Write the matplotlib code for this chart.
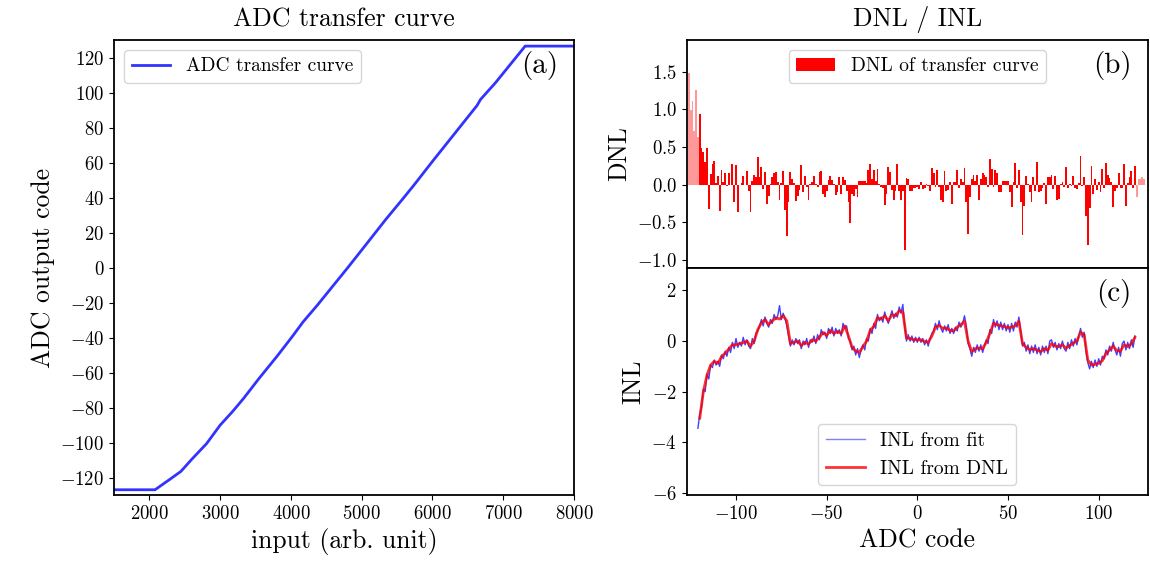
import numpy as np
import matplotlib
matplotlib.use("Agg")
import matplotlib.pyplot as plt

plt.rcParams["font.family"] = "cmr10"
plt.rcParams["mathtext.fontset"] = "cm"
plt.rcParams["axes.formatter.use_mathtext"] = True
plt.rcParams["axes.linewidth"] = 1.3

# --- (a) transfer curve: input vs. output code
transfer_input = [1500, 2080, 2290, 2445, 2600, 2810, 3000, 3180, 3335, 3545,
                  3805, 4015, 4170, 4380, 4640, 4800, 5005, 5345, 5580, 5740,
                  6000, 6315, 6630, 6680, 6890, 7100, 7310, 8000]
transfer_code = [-127, -127, -121, -116.5, -109.5, -100.5, -90, -82, -74.5, -63.5,
                 -50.5, -39.5, -31, -21, -8, 0, 10.5, 28, 39.5, 47.5,
                 61, 77, 93, 96.5, 106, 116.5, 127, 127]

# --- (b) DNL per code, codes -126 .. 125
dnl_codes = np.arange(-126, 126)
dnl_values = [
    1.48, 0.99, 1.11, 0.71, 1.25, 0.63, 0.94, 0.49, 0.43, 0.30,
    0.49, -0.32, 0.14, 0.27, 0.32, 0.02, 0.11, -0.35, 0.20, 0.04,
    0.15, -0.02, 0.15, 0.00, 0.28, -0.23, 0.26, -0.36, 0.00, 0.02,
    0.11, 0.00, 0.18, -0.08, -0.36, 0.05, 0.13, 0.10, 0.37, 0.10,
    0.23, -0.06, 0.17, -0.25, -0.15, 0.01, 0.10, 0.16, 0.17, 0.04,
    -0.20, 0.02, 0.18, -0.33, -0.68, -0.23, 0.17, 0.08, 0.02, -0.22,
    -0.15, -0.07, 0.26, -0.10, 0.12, -0.03, -0.20, 0.01, 0.03, 0.12,
    0.01, -0.03, 0.17, 0.18, -0.12, -0.16, -0.09, 0.06, 0.11, 0.06,
    0.01, -0.14, -0.10, 0.10, -0.12, 0.10, 0.06, -0.08, -0.23, -0.51,
    -0.12, -0.15, -0.06, -0.17, 0.05, 0.05, 0.05, 0.05, 0.02, 0.20,
    0.27, 0.07, 0.20, 0.05, 0.21, 0.01, -0.03, -0.04, -0.27, -0.13,
    0.23, 0.17, -0.07, -0.20, -0.09, 0.27, -0.08, -0.21, -0.09, -0.87,
    0.09, 0.08, -0.09, -0.09, -0.05, -0.05, -0.03, -0.06, 0.03, -0.06,
    -0.05, 0.01, -0.02, -0.09, 0.22, 0.16, -0.03, 0.20, -0.03, -0.21,
    -0.23, 0.18, -0.09, -0.07, 0.03, -0.25, 0.03, 0.03, 0.20, -0.05,
    0.08, 0.03, 0.22, -0.23, -0.66, -0.17, 0.08, 0.13, 0.05, 0.13,
    -0.20, 0.07, 0.16, 0.13, 0.10, -0.03, 0.34, 0.21, -0.03, 0.20,
    0.16, -0.10, -0.10, 0.05, 0.05, 0.05, 0.05, -0.10, -0.29, 0.04,
    0.29, -0.04, 0.20, -0.23, -0.67, -0.28, 0.12, 0.01, -0.10, -0.23,
    0.10, -0.09, 0.30, -0.10, -0.08, -0.05, 0.02, -0.25, 0.10, 0.10,
    0.13, -0.06, 0.12, -0.20, -0.19, 0.01, 0.04, -0.03, 0.23, -0.05,
    0.01, -0.02, 0.12, -0.04, -0.06, 0.02, 0.38, -0.02, 0.10, -0.42,
    -0.80, -0.31, 0.25, -0.12, 0.08, -0.07, 0.04, -0.10, 0.21, -0.05,
    0.29, 0.13, 0.09, 0.04, -0.30, -0.09, -0.04, 0.16, -0.04, -0.04,
    0.27, -0.28, 0.02, 0.10, 0.18, -0.05, 0.25, -0.17, 0.08, 0.08,
    0.10, 0.07,
]
valid_first, valid_last = -120, 120

# --- (c) INL
inl_dnl_codes = np.arange(-120, 121, 2)
inl_dnl_values = [
    -3.05, -2.0, -1.35, -0.95, -0.8, -0.88, -0.62, -0.48, -0.32, -0.15,
    -0.15, -0.1, -0.06, 0.0, -0.2, 0.0, 0.45, 0.72, 0.85, 0.65,
    0.8, 0.92, 0.87, 1.0, 0.8, -0.1, -0.05, 0.0, -0.18, -0.05,
    -0.12, 0.05, 0.0, 0.15, 0.34, 0.22, 0.42, 0.3, 0.38, 0.3,
    0.6, 0.2, -0.25, -0.4, -0.45, -0.22, 0.0, 0.42, 0.58, 0.92,
    0.87, 1.0, 0.8, 1.05, 1.0, 1.2, 1.15, 0.12, 0.1, 0.05,
    0.05, 0.05, -0.02, -0.05, 0.2, 0.55, 0.62, 0.5, 0.52, 0.42,
    0.4, 0.55, 0.65, 0.78, 0.0, -0.42, -0.3, -0.28, -0.3, -0.05,
    0.3, 0.7, 0.65, 0.6, 0.58, 0.52, 0.55, 0.6, 0.78, -0.1,
    -0.25, -0.34, -0.3, -0.35, -0.42, -0.3, -0.36, -0.1, -0.2, -0.22,
    -0.15, -0.28, -0.18, -0.08, 0.0, 0.35, 0.25, -0.75, -0.95, -0.92,
    -0.88, -0.78, -0.5, -0.35, -0.2, -0.38, -0.4, -0.15, -0.22, -0.12,
    0.15,
]
inl_fit_codes = np.arange(-121, 121)
inl_fit_values = [
    -3.45, -2.9, -2.6, -1.9, -2.0, -1.3, -1.5, -0.95, -1.05, -0.75,
    -0.95, -0.8, -1.0, -0.55, -0.7, -0.4, -0.6, -0.25, -0.45, -0.05,
    -0.3, 0.1, -0.25, -0.05, -0.2, 0.15, -0.15, 0.05, -0.2, -0.3,
    0.1, -0.1, 0.3, 0.4, 0.6, 0.85, 0.6, 0.95, 0.7, 0.55,
    0.85, 0.7, 1.05, 0.85, 1.0, 1.4, 0.85, 1.1, 0.9, 0.6,
    0.2, -0.2, 0.05, -0.15, 0.1, -0.1, 0.05, -0.3, 0.0, -0.15,
    0.1, -0.25, 0.05, -0.05, 0.2, -0.1, 0.25, 0.05, 0.45, 0.25,
    0.35, 0.1, 0.5, 0.3, 0.55, 0.2, 0.5, 0.3, 0.45, 0.2,
    0.7, 0.5, 0.6, 0.1, 0.0, -0.35, -0.2, -0.55, -0.3, -0.65,
    -0.35, -0.15, -0.35, 0.1, 0.0, 0.5, 0.3, 0.7, 0.5, 1.05,
    0.8, 0.95, 0.75, 1.15, 0.9, 0.7, 0.95, 1.2, 0.9, 1.1,
    0.95, 1.35, 1.1, 1.45, 0.6, 0.0, 0.25, 0.0, 0.2, -0.05,
    0.15, -0.05, 0.15, -0.05, 0.1, -0.15, 0.05, -0.2, 0.1, 0.3,
    0.4, 0.7, 0.45, 0.8, 0.5, 0.35, 0.6, 0.4, 0.65, 0.3,
    0.5, 0.3, 0.55, 0.4, 0.75, 0.55, 0.7, 1.0, 0.6, -0.1,
    -0.3, -0.6, -0.25, -0.45, -0.15, -0.4, -0.15, -0.45, -0.2, 0.05,
    -0.1, 0.45, 0.3, 0.85, 0.55, 0.8, 0.45, 0.75, 0.45, 0.7,
    0.4, 0.65, 0.35, 0.7, 0.4, 0.75, 0.55, 0.95, 0.4, -0.2,
    -0.05, -0.4, -0.15, -0.5, -0.2, -0.45, -0.15, -0.5, -0.25, -0.55,
    -0.2, -0.45, -0.2, -0.5, 0.0, 0.05, -0.25, -0.05, -0.35, -0.1,
    -0.3, 0.0, -0.3, -0.4, -0.05, -0.3, 0.05, -0.2, 0.1, -0.15,
    0.2, 0.5, 0.15, 0.35, -0.4, -0.85, -1.1, -0.8, -1.05, -0.75,
    -1.0, -0.7, -0.95, -0.6, -0.7, -0.35, -0.55, -0.2, -0.4, -0.05,
    -0.35, -0.55, -0.25, -0.6, -0.1, 0.0, -0.35, -0.05, -0.3, 0.05,
    -0.25, 0.2,
]

W, H = 1150, 572
fig = plt.figure(figsize=(W / 100, H / 100), dpi=100)


def box(x0, y0, x1, y1):
    # pixel box (top-left origin) -> figure fraction rect
    return [x0 / W, 1 - y1 / H, (x1 - x0) / W, (y1 - y0) / H]


ax_a = fig.add_axes(box(114, 40, 574, 495))
ax_b = fig.add_axes(box(686.5, 40, 1148, 268))
ax_c = fig.add_axes(box(686.5, 268, 1148, 495), sharex=ax_b)

# (a)
ax_a.plot(transfer_input, transfer_code, color="blue", alpha=0.8, lw=2,
          label="ADC transfer curve")
ax_a.set_xlim(1500, 8000)
ax_a.set_ylim(-130, 130.5)
ax_a.set_yticks(np.arange(-120, 121, 20))
ax_a.set_title("ADC transfer curve", fontsize=18.5, pad=10)
ax_a.set_xlabel("input (arb. unit)", fontsize=18.5)
ax_a.set_ylabel("ADC output code", fontsize=18.5)
ax_a.tick_params(labelsize=13.5)
ax_a.legend(loc="upper left", fontsize=14)
ax_a.text(0.965, 0.975, "(a)", transform=ax_a.transAxes, ha="right", va="top",
          fontsize=21)

# (b)
dnl = np.array(dnl_values)
valid = (dnl_codes >= valid_first) & (dnl_codes <= valid_last)
ax_b.bar(dnl_codes, dnl, width=1.0, color="red", alpha=0.4, lw=0)
ax_b.bar(dnl_codes[valid], dnl[valid], width=1.0, color="red", lw=0,
         label="DNL of transfer curve")
ax_b.set_xlim(-127.3, 127.2)
ax_b.set_ylim(-1.106, 1.92)
ax_b.set_yticks([-1.0, -0.5, 0.0, 0.5, 1.0, 1.5])
ax_b.set_title("DNL / INL", fontsize=18.5, pad=10)
ax_b.set_ylabel("DNL", fontsize=18.5)
ax_b.tick_params(labelsize=13.5, labelbottom=False)
ax_b.legend(loc="upper center", fontsize=14)
ax_b.text(0.965, 0.95, "(b)", transform=ax_b.transAxes, ha="right", va="top",
          fontsize=21)

# (c)
ax_c.plot(inl_fit_codes, inl_fit_values, color="blue", alpha=0.75, lw=1.0,
          label="INL from fit")
ax_c.plot(inl_dnl_codes, inl_dnl_values, color="red", alpha=0.8, lw=2,
          label="INL from DNL")
ax_c.set_ylim(-6.09, 2.89)
ax_c.set_yticks([-6, -4, -2, 0, 2])
ax_c.set_xticks([-100, -50, 0, 50, 100])
ax_c.set_xlabel("ADC code", fontsize=18.5)
ax_c.set_ylabel("INL", fontsize=18.5)
ax_c.tick_params(labelsize=13.5)
leg = ax_c.legend(loc="lower center", fontsize=14)
leg.get_lines()[0].set_alpha(0.5)
ax_c.text(0.965, 0.95, "(c)", transform=ax_c.transAxes, ha="right", va="top",
          fontsize=21)

fig.savefig("out.png", dpi=100)
